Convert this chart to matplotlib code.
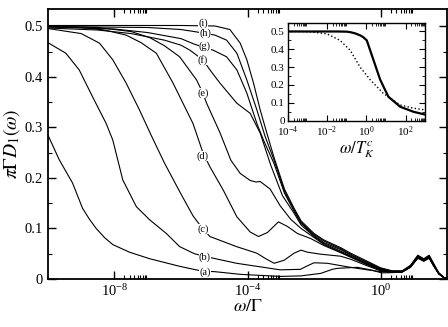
import numpy as np
import matplotlib
matplotlib.use('Agg')
import matplotlib.pyplot as plt
from matplotlib.ticker import FixedLocator, FuncFormatter, MultipleLocator

plt.rcParams['font.family'] = 'Liberation Serif'
plt.rcParams['mathtext.fontset'] = 'stix'

# curves of the main panel, x given as log10(omega/Gamma)
a_lx = [-10.0, -9.66, -9.26, -8.96, -8.75, -8.55, -8.3, -8.05, -7.55, -6.94, -6.04, -5.55, -5.3, -5.0, -4.2, -3.0,
        -2.4, -1.8, -1.45, -1.3, -0.7, -0.3, 0.03, 0.35, 0.65, 0.9, 1.12, 1.3, 1.46, 1.6, 1.75, 1.9, 2.0]
a_y = [0.285, 0.236, 0.19, 0.14, 0.118, 0.1, 0.082, 0.068, 0.053, 0.04, 0.025, 0.018, 0.015, 0.0145, 0.009, 0.005,
       0.006, 0.011, 0.019, 0.021, 0.023, 0.018, 0.012, 0.0125, 0.0135, 0.023, 0.041, 0.035, 0.041, 0.025, 0.010, 0.003, 0.0005]

b_lx = [-10.0, -9.46, -9.06, -8.66, -8.25, -8.05, -7.75, -7.34, -6.94, -6.44, -6.04, -5.6, -5.3, -5.03, -4.33,
        -3.62, -3.02, -2.41, -2.2, -2.0, -1.6, -1.0, -0.4, 0.0, 0.35, 0.65, 0.9, 1.12, 1.3, 1.46, 1.6, 1.75, 1.9, 2.0]
b_y = [0.468, 0.447, 0.414, 0.361, 0.308, 0.275, 0.196, 0.143, 0.117, 0.09, 0.064, 0.05, 0.045, 0.041, 0.031,
       0.024, 0.018, 0.019, 0.026, 0.032, 0.031, 0.024, 0.018, 0.0145, 0.013, 0.0138, 0.0235, 0.042, 0.036, 0.042, 0.026, 0.010, 0.003, 0.0005]

c_lx = [-10.0, -9.0, -8.45, -8.05, -7.65, -7.25, -6.9, -6.5, -6.04, -5.64, -5.4, -5.13, -4.33, -3.72, -3.45,
        -3.2, -2.9, -2.6, -2.39, -2.2, -1.8, -1.2, -0.9, -0.4, 0.0, 0.35, 0.65, 0.9, 1.12, 1.3, 1.46, 1.6, 1.75, 1.9, 2.0]
c_y = [0.496, 0.486, 0.467, 0.434, 0.388, 0.335, 0.285, 0.23, 0.173, 0.125, 0.104, 0.084, 0.064, 0.051, 0.040,
       0.031, 0.037, 0.051, 0.057, 0.053, 0.049, 0.045, 0.039, 0.026, 0.016, 0.013, 0.0138, 0.024, 0.042, 0.036, 0.042, 0.026, 0.010, 0.003, 0.0005]

d_lx = [-10.0, -9.0, -8.3, -7.65, -7.2, -6.74, -6.24, -5.64, -5.34, -5.13, -4.73, -4.32, -3.92, -3.67, -3.4,
        -3.07, -2.8, -2.5, -2.1, -1.7, -1.2, -0.9, -0.4, 0.0, 0.35, 0.65, 0.9, 1.12, 1.3, 1.46, 1.6, 1.75, 1.9, 2.0]
d_y = [0.5, 0.498, 0.493, 0.483, 0.468, 0.447, 0.388, 0.308, 0.25, 0.222, 0.176, 0.123, 0.093, 0.084, 0.092,
       0.113, 0.104, 0.09, 0.08, 0.066, 0.052, 0.043, 0.028, 0.017, 0.0135, 0.014, 0.024, 0.042, 0.036, 0.042, 0.026, 0.010, 0.003, 0.0005]

e_lx = [-10.0, -8.5, -7.5, -6.94, -6.5, -6.04, -5.53, -5.34, -5.23, -4.83, -4.5, -4.22, -3.92, -3.75, -3.62,
        -3.32, -3.02, -2.7, -2.39, -2.0, -1.7, -1.2, -0.9, -0.4, 0.0, 0.35, 0.65, 0.9, 1.12, 1.3, 1.46, 1.6, 1.75, 1.9, 2.0]
e_y = [0.5, 0.498, 0.49, 0.478, 0.462, 0.44, 0.394, 0.368, 0.348, 0.29, 0.235, 0.209, 0.195, 0.192, 0.193,
       0.178, 0.145, 0.118, 0.1, 0.082, 0.068, 0.053, 0.044, 0.029, 0.018, 0.014, 0.0145, 0.025, 0.043, 0.037, 0.043, 0.027, 0.011, 0.003, 0.0005]

f_lx = [-10.0, -8.5, -7.5, -6.5, -6.0, -5.73, -5.34, -5.13, -4.83, -4.32, -3.92, -3.62, -3.3, -2.95, -2.6,
        -2.39, -2.0, -1.7, -1.2, -0.9, -0.4, 0.0, 0.35, 0.65, 0.9, 1.12, 1.3, 1.46, 1.6, 1.75, 1.9, 2.0]
f_y = [0.497, 0.493, 0.486, 0.473, 0.463, 0.453, 0.434, 0.414, 0.388, 0.348, 0.328, 0.289, 0.225, 0.165, 0.13,
       0.107, 0.084, 0.07, 0.055, 0.045, 0.030, 0.019, 0.0145, 0.0148, 0.025, 0.044, 0.037, 0.044, 0.027, 0.011, 0.003, 0.0005]

g_lx = [-10.0, -8.0, -7.0, -6.0, -5.6, -5.03, -4.63, -4.32, -4.02, -3.72, -3.52, -3.2, -2.89, -2.6, -2.39,
        -2.0, -1.7, -1.2, -0.9, -0.4, 0.0, 0.35, 0.65, 0.9, 1.12, 1.3, 1.46, 1.6, 1.75, 1.9, 2.0]
g_y = [0.499, 0.495, 0.488, 0.476, 0.465, 0.453, 0.44, 0.414, 0.368, 0.308, 0.275, 0.228, 0.17, 0.134, 0.11,
       0.086, 0.072, 0.058, 0.047, 0.032, 0.020, 0.015, 0.015, 0.026, 0.045, 0.038, 0.045, 0.028, 0.011, 0.003, 0.0005]

h_lx = [-10.0, -7.0, -6.0, -5.6, -4.98, -4.63, -4.32, -4.02, -3.72, -3.47, -3.2, -2.89, -2.6, -2.39,
        -2.0, -1.7, -1.2, -0.9, -0.4, 0.0, 0.35, 0.65, 0.9, 1.12, 1.3, 1.46, 1.6, 1.75, 1.9, 2.0]
h_y = [0.5, 0.498, 0.494, 0.49, 0.483, 0.473, 0.447, 0.394, 0.335, 0.282, 0.235, 0.174, 0.137, 0.112,
       0.088, 0.075, 0.060, 0.049, 0.033, 0.021, 0.0155, 0.0155, 0.026, 0.046, 0.039, 0.046, 0.029, 0.012, 0.003, 0.0005]

i_lx = [-10.0, -6.0, -4.98, -4.53, -4.22, -4.02, -3.82, -3.62, -3.42, -3.2, -2.89, -2.6, -2.39,
        -2.0, -1.7, -1.2, -0.9, -0.4, 0.0, 0.35, 0.65, 0.9, 1.12, 1.3, 1.46, 1.6, 1.75, 1.9, 2.0]
i_y = [0.502, 0.502, 0.501, 0.494, 0.467, 0.434, 0.388, 0.335, 0.289, 0.24, 0.178, 0.14, 0.115,
       0.09, 0.077, 0.062, 0.051, 0.035, 0.022, 0.016, 0.016, 0.027, 0.047, 0.040, 0.047, 0.030, 0.012, 0.003, 0.0005]

curve_names = ['(a)', '(b)', '(c)', '(d)', '(e)', '(f)', '(g)', '(h)', '(i)']
label_lx = [-5.28, -5.28, -5.34, -5.34, -5.34, -5.34, -5.28, -5.28, -5.34]
label_y = [0.014, 0.044, 0.099, 0.244, 0.368, 0.434, 0.461, 0.486, 0.506]

# inset, x given as log10(omega/T_K^c)
ins_solid_lx = [-4.0, -1.5, -1.0, -0.8, -0.55, -0.3, -0.15, 0.03, 0.37, 0.71, 1.13, 1.73, 2.4, 3.0]
ins_solid_y = [0.5, 0.5, 0.499, 0.496, 0.489, 0.478, 0.468, 0.45, 0.34, 0.23, 0.134, 0.078, 0.05, 0.034]
ins_dot_lx = [-4.0, -3.3, -2.86, -2.0, -1.33, -0.82, -0.31, 0.2, 0.86, 1.73, 2.4, 3.0]
ins_dot_y = [0.5, 0.5, 0.498, 0.487, 0.45, 0.395, 0.30, 0.23, 0.154, 0.088, 0.07, 0.06]

curves = [(a_lx, a_y), (b_lx, b_y), (c_lx, c_y), (d_lx, d_y), (e_lx, e_y),
          (f_lx, f_y), (g_lx, g_y), (h_lx, h_y), (i_lx, i_y)]

fig = plt.figure(figsize=(4.48, 3.27), dpi=100)
ax = fig.add_axes([0.107, 0.147, 0.891, 0.826])

for lx, y in curves:
    ax.plot(10.0 ** np.array(lx), y, color='black', lw=0.8)

for name, lx, y in zip(curve_names, label_lx, label_y):
    ax.text(10.0 ** lx, y, name, ha='center', va='center', fontsize=7.5,
            bbox=dict(fc='white', ec='none', pad=0.1))

ax.set_xscale('log')
ax.set_xlim(1e-10, 1e2)
ax.set_ylim(0, 0.535)
ax.xaxis.set_major_locator(FixedLocator([1e-8, 1e-4, 1e0]))
ax.xaxis.set_minor_locator(FixedLocator([k * 10.0 ** e for e in (-8, -4, 0) for k in range(2, 10)]))
ax.xaxis.set_minor_formatter(FuncFormatter(lambda v, p: ''))
ax.yaxis.set_major_locator(MultipleLocator(0.1))
ax.yaxis.set_minor_locator(MultipleLocator(0.05))
ax.yaxis.set_major_formatter(FuncFormatter(lambda v, p: '0' if v == 0 else f'{v:.1f}'))
ax.tick_params(which='both', direction='in', top=True, right=True, labelsize=10.5)
ax.tick_params(which='major', length=6, width=1)
ax.tick_params(which='minor', length=3, width=0.8)
ax.tick_params(axis='x', pad=3)
for s in ax.spines.values():
    s.set_linewidth(1.3)
ax.set_xlabel(r'$\omega/\Gamma$', fontsize=13, labelpad=-1)
ax.set_ylabel(r'$\pi\Gamma D_1(\omega)$', fontsize=14, labelpad=2)

# inset
axi = fig.add_axes([0.642, 0.631, 0.307, 0.30])
axi.plot(10.0 ** np.array(ins_solid_lx), ins_solid_y, color='black', lw=1.6)
axi.plot(10.0 ** np.array(ins_dot_lx), ins_dot_y, color='black', lw=1.0, ls=':')
axi.set_xscale('log')
axi.set_xlim(1e-4, 1e3)
axi.set_ylim(0, 0.55)
axi.xaxis.set_major_locator(FixedLocator([1e-4, 1e-2, 1e0, 1e2]))
axi.xaxis.set_minor_locator(FixedLocator([k * 10.0 ** e for e in (-4, -2, 0, 2) for k in range(2, 10)]))
axi.xaxis.set_minor_formatter(FuncFormatter(lambda v, p: ''))
axi.yaxis.set_major_locator(MultipleLocator(0.1))
axi.yaxis.set_minor_locator(MultipleLocator(0.05))
axi.yaxis.set_major_formatter(FuncFormatter(lambda v, p: '0' if v == 0 else f'{v:.1f}'))
axi.tick_params(which='both', direction='in', top=True, right=True, labelsize=8)
axi.tick_params(axis='y', pad=2)
axi.tick_params(axis='x', pad=3)
axi.tick_params(which='major', length=4, width=0.8)
axi.tick_params(which='minor', length=2, width=0.6)
for s in axi.spines.values():
    s.set_linewidth(1.0)
axi.set_xlabel(r'$\omega/T_K^c$', fontsize=12, labelpad=0)

fig.savefig('out.png', dpi=100)
